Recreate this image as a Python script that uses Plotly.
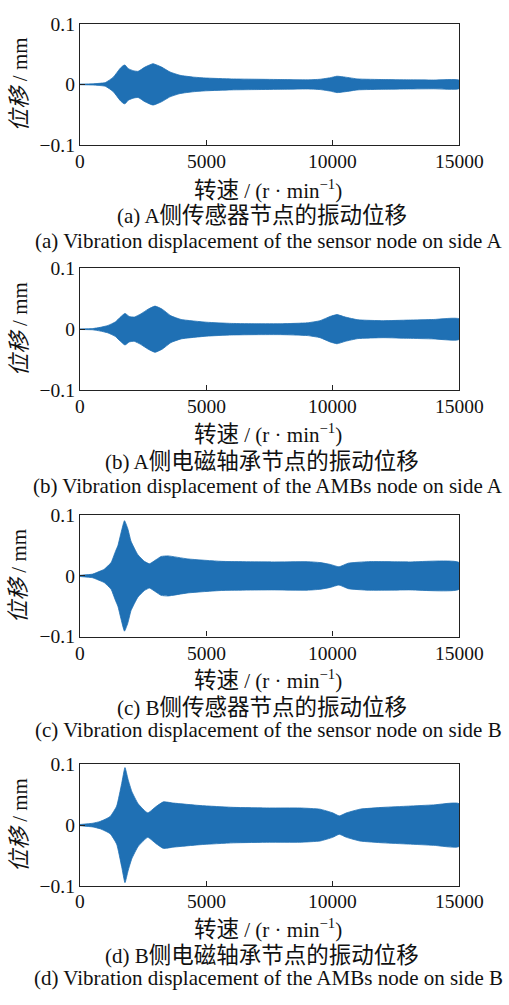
import plotly.graph_objects as go

# Rotor speed (r/min) and displacement envelope amplitude (mm) for each node
speed_a = [0, 500, 1000, 1320, 1580, 1710, 1780, 1910, 2110, 2300, 2570, 2890, 3230, 3560, 3960,
           4500, 5000, 6000, 7000, 8000, 9000, 9500, 9900, 10170, 10500, 11000, 12000, 13000, 14000, 15000]
amp_a = [0.0005, 0.001, 0.003, 0.012, 0.026, 0.031, 0.032, 0.026, 0.0226, 0.0215, 0.0285, 0.034, 0.0285,
         0.0205, 0.015, 0.012, 0.0105, 0.009, 0.0085, 0.008, 0.0075, 0.0085, 0.011, 0.0135, 0.012, 0.009,
         0.008, 0.0075, 0.0072, 0.007]

speed_b = [0, 500, 800, 1100, 1400, 1600, 1780, 1950, 2150, 2400, 2700, 2970, 3250, 3600, 4000,
           5000, 6000, 7000, 8000, 9000, 9500, 9900, 10170, 10500, 11000, 12000, 13000, 14000, 15000]
amp_b = [0.0005, 0.001, 0.003, 0.006, 0.012, 0.02, 0.026, 0.021, 0.02, 0.025, 0.033, 0.038, 0.033,
         0.022, 0.016, 0.0115, 0.0095, 0.009, 0.009, 0.0105, 0.014, 0.021, 0.024, 0.02, 0.0155, 0.014,
         0.015, 0.016, 0.017]

speed_c = [0, 500, 800, 960, 1230, 1400, 1500, 1630, 1760, 1890, 2020, 2290, 2550, 2750, 3020, 3210,
           3480, 4270, 5600, 7580, 9000, 9500, 9900, 10250, 10620, 11420, 13000, 15000]
amp_c = [0.001, 0.003, 0.008, 0.011, 0.022, 0.04, 0.05, 0.072, 0.091, 0.078, 0.057, 0.035, 0.024,
         0.020, 0.027, 0.032, 0.033, 0.028, 0.024, 0.023, 0.0235, 0.022, 0.019, 0.015, 0.021, 0.0235,
         0.023, 0.022]

speed_d = [0, 500, 800, 1190, 1450, 1650, 1780, 1900, 2050, 2300, 2680, 3000, 3300, 3700, 4750, 6070,
           7500, 8700, 9500, 10000, 10260, 10550, 11080, 12000, 13000, 14000, 15000]
amp_d = [0.001, 0.003, 0.006, 0.014, 0.031, 0.068, 0.094, 0.075, 0.055, 0.035, 0.020, 0.03, 0.038,
         0.036, 0.032, 0.029, 0.028, 0.028, 0.026, 0.02, 0.015, 0.02, 0.026, 0.029, 0.031, 0.033, 0.035]

captions_cn = [("(a) A", "侧传感器节点的振动位移"), ("(b) A", "侧电磁轴承节点的振动位移"),
               ("(c) B", "侧传感器节点的振动位移"), ("(d) B", "侧电磁轴承节点的振动位移")]
captions_en = ["(a) Vibration displacement of the sensor node on side A",
               "(b) Vibration displacement of the AMBs node on side A",
               "(c) Vibration displacement of the sensor node on side B",
               "(d) Vibration displacement of the AMBs node on side B"]

x_ticks = [0, 5000, 10000, 15000]
y_ticks = [-0.1, 0, 0.1]

W, H = 509, 1005
FILL = "#1f70b4"
INK = "#111"
SERIF = "Liberation Serif, Times New Roman, Noto Sans CJK SC, serif"
CJK = 'style="font-size:22.5px"'

# pixel layout of each panel: (top, bottom, tick-label, x-title, cn caption, en caption)
panels = [
    (14, 138, 155, 183, 210, 236),
    (264, 388, 405, 433, 461, 486),
    (516, 640, 657, 684, 712, 735),
    (770, 895, 911, 938, 966, 989),
]
x_left, x_right = 80, 459


def py(p):
    return 1 - p / H


def cjk(s):
    return f"<span {CJK}>{s}</span>"


series = [(speed_a, amp_a), (speed_b, amp_b), (speed_c, amp_c), (speed_d, amp_d)]

fig = go.Figure()
annotations = []
for i, ((sp, amp), (top, bot, tl, xt, cn, en)) in enumerate(zip(series, panels)):
    n = "" if i == 0 else str(i + 1)
    xs = list(sp) + list(sp[::-1])
    ys = list(amp) + [-v for v in amp[::-1]]
    fig.add_trace(go.Scatter(
        x=xs, y=ys, mode="lines", fill="toself", fillcolor=FILL,
        line=dict(color=FILL, width=0.8, shape="spline", smoothing=0.45),
        xaxis="x" + n, yaxis="y" + n, showlegend=False, hoverinfo="skip"))

    axis_common = dict(showline=True, linecolor="#222", linewidth=1.4, mirror=True,
                       ticks="inside", ticklen=5, tickcolor="#222", showgrid=False,
                       zeroline=False, tickfont=dict(family=SERIF, size=19.5, color=INK))
    fig.layout["xaxis" + n] = dict(axis_common, domain=[x_left / W, x_right / W],
                                   range=[0, 15000], tickvals=x_ticks,
                                   anchor="y" + n, showticklabels=False)
    fig.layout["yaxis" + n] = dict(axis_common, domain=[py(bot), py(top)],
                                   range=[-0.1, 0.1], tickvals=y_ticks,
                                   ticktext=["\u22120.1", "0", "0.1"],
                                   anchor="x" + n)

    # x tick labels
    for v in x_ticks:
        annotations.append(dict(x=v, y=py(tl), xref="x" + n, yref="paper", text=str(v),
                                showarrow=False, xanchor="center", yanchor="middle",
                                font=dict(family=SERIF, size=19.5, color=INK)))
    annotations.append(dict(x=268 / W, y=py(xt), xref="paper", yref="paper",
                            text=cjk("转速") + " / (r · min<sup>\u22121</sup>)", showarrow=False,
                            xanchor="center", yanchor="middle",
                            font=dict(family=SERIF, size=21, color=INK)))
    annotations.append(dict(x=19 / W, y=py((top + bot) / 2), xref="paper", yref="paper",
                            text="<i>" + cjk("位移") + "</i> / mm", textangle=-90, showarrow=False,
                            xanchor="center", yanchor="middle",
                            font=dict(family=SERIF, size=21, color=INK)))
    head, tail = captions_cn[i]
    annotations.append(dict(x=262 / W, y=py(cn), xref="paper", yref="paper",
                            text=head + cjk(tail),
                            showarrow=False, xanchor="center", yanchor="middle",
                            font=dict(family=SERIF, size=21, color=INK)))
    annotations.append(dict(x=268 / W, y=py(en), xref="paper", yref="paper", text=captions_en[i],
                            showarrow=False, xanchor="center", yanchor="middle",
                            font=dict(family=SERIF, size=21, color=INK)))

fig.update_layout(width=W, height=H, margin=dict(l=0, r=0, t=0, b=0),
                  paper_bgcolor="white", plot_bgcolor="white",
                  annotations=annotations)

fig.write_html("out.html")
